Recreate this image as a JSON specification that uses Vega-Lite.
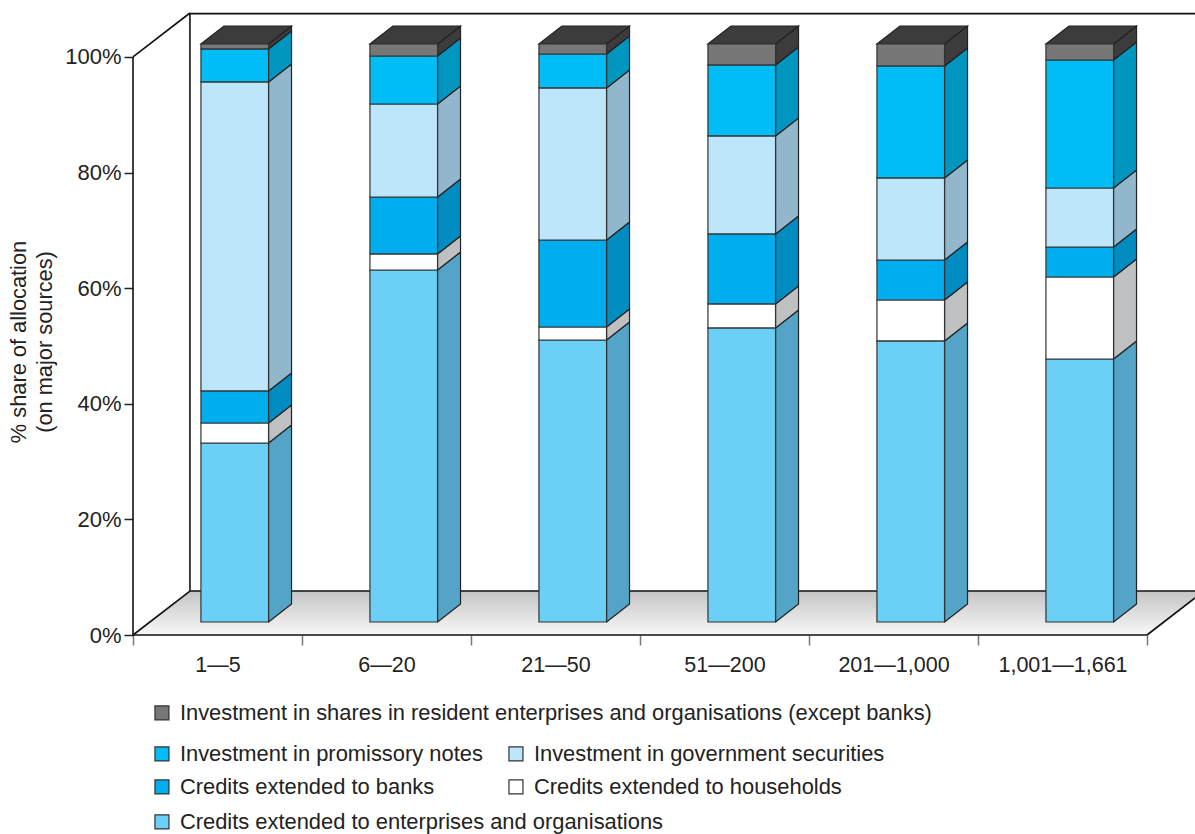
{
  "$schema": "https://vega.github.io/schema/vega-lite/v6.json",
  "width": 1062,
  "height": 622,
  "autosize": {"type": "none"},
  "padding": {"left": 133, "top": 13, "right": 0, "bottom": 199},
  "background": "white",
  "config": {
    "view": {"stroke": null},
    "font": "Liberation Sans",
    "legend": {"symbolType": "square", "symbolSize": 196, "symbolStrokeColor": "#333333", "symbolStrokeWidth": 1.2, "labelFontSize": 21.9, "labelColor": "#222222", "labelFont": "Liberation Sans", "labelLimit": 900, "title": null, "orient": "none", "padding": 0, "labelOffset": 7}
  },
  "datasets": {
    "allocation": [
      {"col": 0, "rank": 1, "band": "1—5", "series": "Credits extended to enterprises and organisations", "share": 30.97},
      {"col": 0, "rank": 2, "band": "1—5", "series": "Credits extended to households", "share": 3.46},
      {"col": 0, "rank": 3, "band": "1—5", "series": "Credits extended to banks", "share": 5.54},
      {"col": 0, "rank": 4, "band": "1—5", "series": "Investment in government securities", "share": 53.46},
      {"col": 0, "rank": 5, "band": "1—5", "series": "Investment in promissory notes", "share": 5.71},
      {"col": 0, "rank": 6, "band": "1—5", "series": "Investment in shares in resident enterprises and organisations (except banks)", "share": 0.86},
      {"col": 1, "rank": 1, "band": "6—20", "series": "Credits extended to enterprises and organisations", "share": 60.9},
      {"col": 1, "rank": 2, "band": "6—20", "series": "Credits extended to households", "share": 2.77},
      {"col": 1, "rank": 3, "band": "6—20", "series": "Credits extended to banks", "share": 9.86},
      {"col": 1, "rank": 4, "band": "6—20", "series": "Investment in government securities", "share": 16.09},
      {"col": 1, "rank": 5, "band": "6—20", "series": "Investment in promissory notes", "share": 8.3},
      {"col": 1, "rank": 6, "band": "6—20", "series": "Investment in shares in resident enterprises and organisations (except banks)", "share": 2.08},
      {"col": 2, "rank": 1, "band": "21—50", "series": "Credits extended to enterprises and organisations", "share": 48.79},
      {"col": 2, "rank": 2, "band": "21—50", "series": "Credits extended to households", "share": 2.25},
      {"col": 2, "rank": 3, "band": "21—50", "series": "Credits extended to banks", "share": 15.05},
      {"col": 2, "rank": 4, "band": "21—50", "series": "Investment in government securities", "share": 26.3},
      {"col": 2, "rank": 5, "band": "21—50", "series": "Investment in promissory notes", "share": 5.88},
      {"col": 2, "rank": 6, "band": "21—50", "series": "Investment in shares in resident enterprises and organisations (except banks)", "share": 1.73},
      {"col": 3, "rank": 1, "band": "51—200", "series": "Credits extended to enterprises and organisations", "share": 50.87},
      {"col": 3, "rank": 2, "band": "51—200", "series": "Credits extended to households", "share": 4.15},
      {"col": 3, "rank": 3, "band": "51—200", "series": "Credits extended to banks", "share": 12.11},
      {"col": 3, "rank": 4, "band": "51—200", "series": "Investment in government securities", "share": 16.96},
      {"col": 3, "rank": 5, "band": "51—200", "series": "Investment in promissory notes", "share": 12.28},
      {"col": 3, "rank": 6, "band": "51—200", "series": "Investment in shares in resident enterprises and organisations (except banks)", "share": 3.63},
      {"col": 4, "rank": 1, "band": "201—1,000", "series": "Credits extended to enterprises and organisations", "share": 48.62},
      {"col": 4, "rank": 2, "band": "201—1,000", "series": "Credits extended to households", "share": 7.09},
      {"col": 4, "rank": 3, "band": "201—1,000", "series": "Credits extended to banks", "share": 6.92},
      {"col": 4, "rank": 4, "band": "201—1,000", "series": "Investment in government securities", "share": 14.19},
      {"col": 4, "rank": 5, "band": "201—1,000", "series": "Investment in promissory notes", "share": 19.38},
      {"col": 4, "rank": 6, "band": "201—1,000", "series": "Investment in shares in resident enterprises and organisations (except banks)", "share": 3.8},
      {"col": 5, "rank": 1, "band": "1,001—1,661", "series": "Credits extended to enterprises and organisations", "share": 45.5},
      {"col": 5, "rank": 2, "band": "1,001—1,661", "series": "Credits extended to households", "share": 14.19},
      {"col": 5, "rank": 3, "band": "1,001—1,661", "series": "Credits extended to banks", "share": 5.19},
      {"col": 5, "rank": 4, "band": "1,001—1,661", "series": "Investment in government securities", "share": 10.2},
      {"col": 5, "rank": 5, "band": "1,001—1,661", "series": "Investment in promissory notes", "share": 22.15},
      {"col": 5, "rank": 6, "band": "1,001—1,661", "series": "Investment in shares in resident enterprises and organisations (except banks)", "share": 2.77}
    ],
    "floor": [
      {"fx": 0, "lo": 0, "hi": 0},
      {"fx": 0.337, "lo": 0, "hi": 7.61},
      {"fx": 6, "lo": 0, "hi": 7.61},
      {"fx": 6.337, "lo": 7.61, "hi": 7.61}
    ],
    "frame": [
      {"a": 0, "b": 0, "a2": 0, "b2": 100},
      {"a": 0, "b": 100, "a2": 0.337, "b2": 107.61},
      {"a": 0.337, "b": 7.61, "a2": 0.337, "b2": 107.61},
      {"a": 0, "b": 0, "a2": 0.337, "b2": 7.61},
      {"a": 0.337, "b": 107.5, "a2": 6.284, "b2": 107.5},
      {"a": 0.337, "b": 7.61, "a2": 6.284, "b2": 7.61},
      {"a": 0, "b": 0, "a2": 6, "b2": 0},
      {"a": 6, "b": 0, "a2": 6.284, "b2": 6.41}
    ]
  },
  "encoding": {
    "x": {
      "type": "quantitative",
      "scale": {"domain": [0, 6.284], "nice": false, "zero": false},
      "axis": {
        "title": null, "grid": false, "domain": false,
        "values": [0, 0.5, 1, 1.5, 2, 2.5, 3, 3.5, 4, 4.5, 5, 5.5, 6],
        "tickSize": 10, "tickColor": "#777777", "tickWidth": 1.5,
        "tickOpacity": {"condition": {"test": "datum.value % 1 != 0", "value": 0}, "value": 1},
        "labelExpr": "datum.value % 1 != 0 ? ['1—5','6—20','21—50','51—200','201—1,000','1,001—1,661'][floor(datum.value)] : ''",
        "labelFontSize": 21.5, "labelColor": "#222222", "labelPadding": 9, "labelOverlap": false, "labelBound": false, "labelFlush": false, "labelAngle": 0
      }
    },
    "y": {
      "type": "quantitative",
      "scale": {"domain": [0, 107.61], "nice": false, "zero": false},
      "axis": {
        "title": ["% share of allocation", "(on major sources)"],
        "titleFontSize": 21.8, "titleFontWeight": "normal", "titleColor": "#222222", "titleX": -103, "titleY": 328.5, "titleLineHeight": 26,
        "grid": false, "domain": false,
        "values": [0, 20, 40, 60, 80, 100],
        "tickSize": 9, "tickColor": "#222222", "tickWidth": 1.5,
        "labelExpr": "datum.value + '%'", "labelFontSize": 22, "labelColor": "#222222", "labelPadding": 3
      }
    }
  },
  "layer": [
    {
      "data": {"name": "floor"},
      "mark": {"type": "area", "clip": true, "color": {"gradient": "linear", "x1": 0, "y1": 0, "x2": 0, "y2": 1, "stops": [{"offset": 0, "color": "#c4c4c4"}, {"offset": 1, "color": "#f8f8f8"}]}},
      "encoding": {
        "x": {"field": "fx", "type": "quantitative"},
        "y": {"field": "lo", "type": "quantitative"},
        "y2": {"field": "hi"}
      }
    },
    {
      "data": {"name": "frame"},
      "mark": {"type": "rule", "color": "#111111", "strokeWidth": 1.6},
      "encoding": {
        "x": {"field": "a", "type": "quantitative"},
        "y": {"field": "b", "type": "quantitative"},
        "x2": {"field": "a2"},
        "y2": {"field": "b2"}
      }
    },
    {
      "data": {"name": "allocation"},
      "transform": [
        {"stack": "share", "groupby": ["col"], "sort": [{"field": "rank", "order": "ascending"}], "as": ["s0", "s1"]},
        {"calculate": "datum.s0 + 2.25", "as": "low"},
        {"calculate": "datum.s1 + 2.25", "as": "high"},
        {"calculate": "datum.col + 0.402", "as": "left"},
        {"calculate": "datum.col + 0.802", "as": "right"}
      ],
      "layer": [
        {
          "transform": [
            {"calculate": "[0, 1]", "as": "t"},
            {"flatten": ["t"]},
            {"calculate": "datum.right + datum.t * 0.136", "as": "sx"},
            {"calculate": "datum.low + datum.t * 3.11", "as": "sy"},
            {"calculate": "datum.high + datum.t * 3.11", "as": "sy2"}
          ],
          "mark": {"type": "area", "stroke": "#222222", "strokeWidth": 1.2, "strokeJoin": "round"},
          "encoding": {
            "x": {"field": "sx", "type": "quantitative"},
            "y": {"field": "sy", "type": "quantitative"},
            "y2": {"field": "sy2"},
            "detail": {"field": "band"},
            "fill": {
              "field": "series", "type": "nominal", "legend": null,
              "scale": {
                "domain": ["Credits extended to enterprises and organisations", "Credits extended to households", "Credits extended to banks", "Investment in government securities", "Investment in promissory notes", "Investment in shares in resident enterprises and organisations (except banks)"],
                "range": ["#53a4c6", "#bfc0c1", "#008cc0", "#92b7cc", "#0096c0", "#3c3c3c"]
              }
            }
          }
        },
        {
          "transform": [
            {"filter": "datum.rank == 6"},
            {"calculate": "[0, 1, 2, 3]", "as": "t"},
            {"flatten": ["t"]},
            {"calculate": "[datum.left, datum.left + 0.136, datum.right, datum.right + 0.136][datum.t]", "as": "tx"},
            {"calculate": "datum.t == 3 ? datum.high + 3.11 : datum.high", "as": "ty"},
            {"calculate": "datum.t == 0 ? datum.high : datum.high + 3.11", "as": "ty2"}
          ],
          "mark": {"type": "area", "fill": "#3c3c3c", "stroke": "#222222", "strokeWidth": 1.2},
          "encoding": {
            "x": {"field": "tx", "type": "quantitative"},
            "y": {"field": "ty", "type": "quantitative"},
            "y2": {"field": "ty2"},
            "detail": {"field": "band"}
          }
        },
        {
          "transform": [{"filter": "datum.rank == 1"}],
          "mark": {"type": "rect", "stroke": "#333333", "strokeWidth": 1.2},
          "encoding": {
            "x": {"field": "left", "type": "quantitative"},
            "x2": {"field": "right"},
            "y": {"field": "low", "type": "quantitative"},
            "y2": {"field": "high"},
            "color": {"field": "series", "type": "nominal", "scale": {"range": ["#6bcff6"]}, "legend": {"legendX": 18, "legendY": 798}}
          }
        },
        {
          "transform": [{"filter": "datum.rank == 2"}],
          "mark": {"type": "rect", "stroke": "#333333", "strokeWidth": 1.2},
          "encoding": {
            "x": {"field": "left", "type": "quantitative"},
            "x2": {"field": "right"},
            "y": {"field": "low", "type": "quantitative"},
            "y2": {"field": "high"},
            "color": {"field": "series", "type": "nominal", "scale": {"range": ["#ffffff"]}, "legend": {"legendX": 372, "legendY": 763}}
          }
        },
        {
          "transform": [{"filter": "datum.rank == 3"}],
          "mark": {"type": "rect", "stroke": "#333333", "strokeWidth": 1.2},
          "encoding": {
            "x": {"field": "left", "type": "quantitative"},
            "x2": {"field": "right"},
            "y": {"field": "low", "type": "quantitative"},
            "y2": {"field": "high"},
            "color": {"field": "series", "type": "nominal", "scale": {"range": ["#00aeef"]}, "legend": {"legendX": 18, "legendY": 763}}
          }
        },
        {
          "transform": [{"filter": "datum.rank == 4"}],
          "mark": {"type": "rect", "stroke": "#333333", "strokeWidth": 1.2},
          "encoding": {
            "x": {"field": "left", "type": "quantitative"},
            "x2": {"field": "right"},
            "y": {"field": "low", "type": "quantitative"},
            "y2": {"field": "high"},
            "color": {"field": "series", "type": "nominal", "scale": {"range": ["#bde6fa"]}, "legend": {"legendX": 372, "legendY": 730}}
          }
        },
        {
          "transform": [{"filter": "datum.rank == 5"}],
          "mark": {"type": "rect", "stroke": "#333333", "strokeWidth": 1.2},
          "encoding": {
            "x": {"field": "left", "type": "quantitative"},
            "x2": {"field": "right"},
            "y": {"field": "low", "type": "quantitative"},
            "y2": {"field": "high"},
            "color": {"field": "series", "type": "nominal", "scale": {"range": ["#00bdf6"]}, "legend": {"legendX": 18, "legendY": 730}}
          }
        },
        {
          "transform": [{"filter": "datum.rank == 6"}],
          "mark": {"type": "rect", "stroke": "#333333", "strokeWidth": 1.2},
          "encoding": {
            "x": {"field": "left", "type": "quantitative"},
            "x2": {"field": "right"},
            "y": {"field": "low", "type": "quantitative"},
            "y2": {"field": "high"},
            "color": {"field": "series", "type": "nominal", "scale": {"range": ["#777777"]}, "legend": {"legendX": 18, "legendY": 689}}
          }
        }
      ],
      "resolve": {"scale": {"color": "independent", "fill": "independent"}}
    }
  ],
  "resolve": {"scale": {"color": "independent", "fill": "independent"}}
}
